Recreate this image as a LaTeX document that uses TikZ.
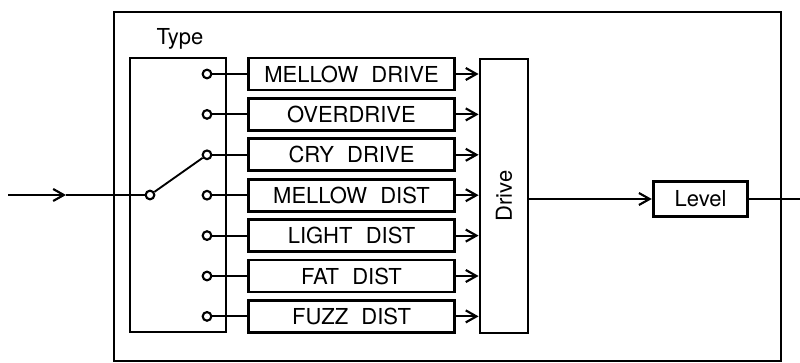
\documentclass[tikz,border=0pt]{standalone}
\usepackage{fontspec}
\setmainfont{TeX Gyre Heros}
\usetikzlibrary{arrows.meta}

\begin{document}
\begin{tikzpicture}[x=0.75pt, y=-0.75pt,
  panel/.style={draw, line width=2.1pt, inner sep=0pt},
  fxbox/.style={panel, minimum width=155pt, minimum height=24pt,
    font={\fontsize{16.5}{19}\selectfont\spaceskip=0.6em}},
  contact/.style={circle, draw, fill=white, line width=1.6pt, inner sep=0pt, minimum size=6.5pt},
  wire/.style={line width=1.4pt},
  sig/.style={wire, -{Straight Barb[length=8pt,width=9pt,line width=1.6pt]}},
  every node/.append style={font=\fontsize{16.5}{19}\selectfont}]
\useasboundingbox (0,0) rectangle (800,363);
\draw[line width=1.7pt] (114,12) rectangle (781,361);

% type selector
\node[panel, minimum width=72pt, minimum height=205.5pt] (type) at (178,195) {};
\node (typelbl) at (180,39) {Type};
\node[contact] (pivot) at (150,195) {};

\foreach \lbl [count=\i] in {MELLOW DRIVE, OVERDRIVE, CRY DRIVE, MELLOW DIST, LIGHT DIST, FAT DIST, FUZZ DIST} {
  \node[contact] (c\i) at (207,{33.6+40.4*\i}) {};
  \node[fxbox] (fx\i) at (351.5,{33.6+40.4*\i}) {\lbl};
}

\node[panel, minimum width=36pt, minimum height=205.5pt] (drive) at (504,196) {\rotatebox{90}{Drive}};
\node[panel, minimum width=71pt, minimum height=26pt] (level) at (700.5,199) {Level};

\foreach \i in {1,...,7} {
  \draw[wire] (c\i) -- (fx\i);
  \draw[sig] (fx\i) -- (drive.west |- fx\i);
}
\draw[wire] (c3) -- (pivot);

% input and output
\coordinate (in) at (8,195);
\coordinate (inarr) at (66,195);
\coordinate (out) at (800,199);
\draw[sig] (in) -- (inarr);
\draw[wire] (inarr) -- (pivot);
\draw[sig] (drive.east |- level) -- (level);
\draw[wire] (level) -- (out);
\end{tikzpicture}
\end{document}
